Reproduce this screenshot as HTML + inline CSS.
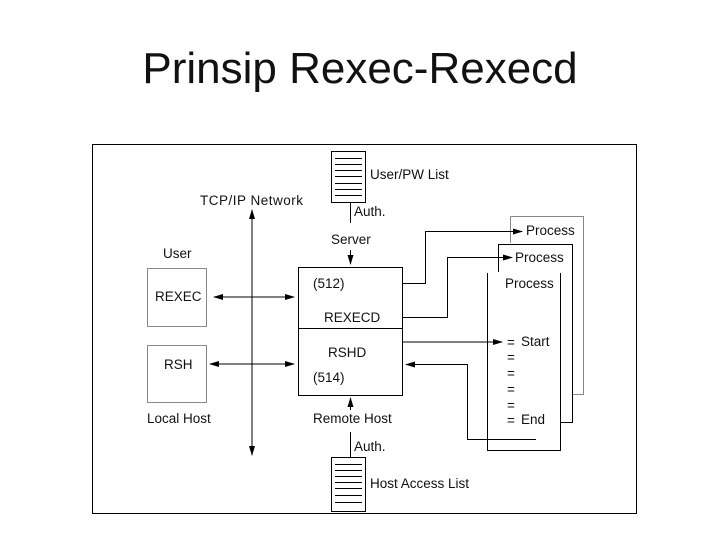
<!DOCTYPE html>
<html><head><style>
body{margin:0;background:#fff;width:720px;height:540px;overflow:hidden}
svg text{font-family:"Liberation Sans",sans-serif;fill:#111}
</style></head><body>
<svg width="720" height="540" xmlns="http://www.w3.org/2000/svg">
<defs><marker id="a" markerWidth="10" markerHeight="8" refX="9" refY="4" orient="auto-start-reverse" markerUnits="userSpaceOnUse"><path d="M0,1 L10,4 L0,7 z" fill="#000"/></marker></defs>
<text x="360" y="83" font-size="44" text-anchor="middle">Prinsip Rexec-Rexecd</text>
<rect x="92.5" y="144.5" width="544" height="369" fill="none" stroke="#000" stroke-width="1"/>
<g font-size="13.5">
<line x1="252" y1="210" x2="252" y2="455" stroke="#000" marker-start="url(#a)" marker-end="url(#a)"/>
<text x="200" y="205" textLength="103">TCP/IP Network</text>
<rect x="147.5" y="268.5" width="59" height="58" fill="none" stroke="#888"/>
<rect x="147.5" y="345.5" width="59" height="57" fill="none" stroke="#888"/>
<text x="163" y="258">User</text>
<text x="155" y="301">REXEC</text>
<text x="164" y="369">RSH</text>
<text x="147" y="423">Local Host</text>
<line x1="214" y1="297" x2="294" y2="297" stroke="#000" marker-start="url(#a)" marker-end="url(#a)"/>
<line x1="210" y1="364" x2="294" y2="364" stroke="#000" marker-start="url(#a)" marker-end="url(#a)"/>
<rect x="298.5" y="267.5" width="104" height="128" fill="none" stroke="#000"/>
<line x1="298" y1="328.5" x2="402" y2="328.5" stroke="#000"/>
<text x="313" y="288">(512)</text>
<text x="324" y="322">REXECD</text>
<text x="328" y="357">RSHD</text>
<text x="313" y="382">(514)</text>
<rect x="331.5" y="151.5" width="34" height="51" fill="#fff" stroke="#000"/>
<g stroke="#000"><line x1="335" y1="158.5" x2="362" y2="158.5"/><line x1="335" y1="164.5" x2="362" y2="164.5"/><line x1="335" y1="170.5" x2="362" y2="170.5"/><line x1="335" y1="176.5" x2="362" y2="176.5"/><line x1="335" y1="183.5" x2="362" y2="183.5"/><line x1="335" y1="189.5" x2="362" y2="189.5"/><line x1="335" y1="195.5" x2="362" y2="195.5"/></g>
<rect x="331.5" y="457.5" width="34" height="54" fill="#fff" stroke="#000"/>
<g stroke="#000"><line x1="335" y1="464.5" x2="362" y2="464.5"/><line x1="335" y1="470.5" x2="362" y2="470.5"/><line x1="335" y1="476.5" x2="362" y2="476.5"/><line x1="335" y1="482.5" x2="362" y2="482.5"/><line x1="335" y1="488.5" x2="362" y2="488.5"/><line x1="335" y1="495.5" x2="362" y2="495.5"/><line x1="335" y1="502.5" x2="362" y2="502.5"/></g>
<text x="370" y="179">User/PW List</text>
<text x="370" y="488">Host Access List</text>
<line x1="350.5" y1="203" x2="350.5" y2="223" stroke="#000"/>
<line x1="350.5" y1="250" x2="350.5" y2="264" stroke="#000" marker-end="url(#a)"/>
<text x="354" y="216">Auth.</text>
<text x="331" y="244">Server</text>
<line x1="350.5" y1="410" x2="350.5" y2="398" stroke="#000" marker-end="url(#a)"/>
<line x1="350.5" y1="432" x2="350.5" y2="457" stroke="#000"/>
<text x="313" y="423">Remote Host</text>
<text x="354" y="451">Auth.</text>
<path d="M510.5 216.5 H583.5 V394.5 H572" fill="none" stroke="#888"/>
<line x1="510.5" y1="216.5" x2="510.5" y2="243" stroke="#888"/>
<path d="M498.5 272 V244.5 H572.5 V422.5 H560" fill="none" stroke="#000"/>
<path d="M487.5 273 V450.5 H560.5 V273" fill="none" stroke="#000"/>
<text x="526" y="235">Process</text>
<text x="515" y="262">Process</text>
<text x="505" y="288">Process</text>
<path d="M402 283.5 H425.5 V231.5 H522" fill="none" stroke="#000" marker-end="url(#a)"/>
<path d="M402 317.5 H447.5 V257.5 H512" fill="none" stroke="#000" marker-end="url(#a)"/>
<line x1="402" y1="342" x2="502" y2="342" stroke="#000" marker-end="url(#a)"/>
<path d="M536 439.5 H467.5 V364.5 H406" fill="none" stroke="#000" marker-end="url(#a)"/>
<text x="507" y="347">=</text><text x="521" y="346">Start</text>
<text x="507" y="362">=</text><text x="507" y="378">=</text><text x="507" y="394">=</text><text x="507" y="410">=</text>
<text x="507" y="425">=</text><text x="521" y="424">End</text>
</g>
</svg>
</body></html>
